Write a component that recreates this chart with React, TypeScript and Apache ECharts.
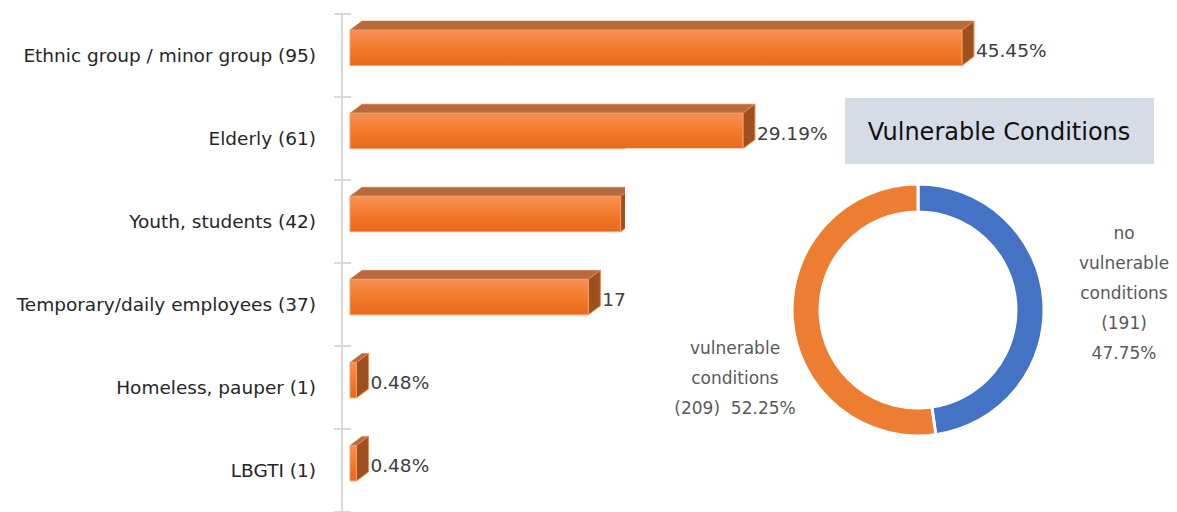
import React, { useEffect, useRef } from "react";
import * as echarts from "echarts";

const categories = [
  "Ethnic group / minor group (95)",
  "Elderly (61)",
  "Youth, students (42)",
  "Temporary/daily employees (37)",
  "Homeless, pauper (1)",
  "LBGTI (1)",
];
const counts = [95, 61, 42, 37, 1, 1];
const percentLabels = ["45.45%", "29.19%", "20.10%", "17.70%", "0.48%", "0.48%"];

const donutNames = ["no\nvulnerable\nconditions", "vulnerable\nconditions"];
const donutValues = [191, 209];
const donutColors = ["#4472C4", "#ED7D31"];

const FONT = "DejaVu Sans";

export default function App() {
  const ref = useRef<HTMLDivElement>(null);
  useEffect(() => {
    document.body.style.margin = "0";
    const chart = echarts.init(ref.current!, null, { renderer: "svg" });
    const total = donutValues.reduce((a, b) => a + b, 0);
    const dx = 12;
    const dy = 9;
    const option: any = {
      animation: false,
      backgroundColor: "#ffffff",
      grid: { left: 342, top: 13.5, height: 501, width: 773, containLabel: false },
      xAxis: { type: "value", min: 0, max: 120, show: false },
      yAxis: [
        {
          type: "category",
          data: categories,
          inverse: true,
          position: "left",
          axisLine: { show: true, lineStyle: { color: "#D9D9D9", width: 2 } },
          axisTick: { show: true, length: 8, lineStyle: { color: "#D9D9D9", width: 2 } },
          axisLabel: {
            margin: 26,
            color: "#262626",
            fontSize: 18.5,
            fontFamily: FONT,
            padding: [4, 0, 0, 0],
          },
        },
        {
          type: "category",
          data: categories,
          inverse: true,
          position: "left",
          axisLine: { show: false },
          axisTick: { show: true, inside: true, length: 9, lineStyle: { color: "#D9D9D9", width: 2 } },
          axisLabel: { show: false },
        },
      ],
      series: [
        {
          type: "custom",
          xAxisIndex: 0,
          yAxisIndex: 0,
          z: 2,
          data: counts.map((c, i) => [c, i]),
          encode: { x: 0, y: 1 },
          renderItem: (params: any, api: any) => {
            const idx = api.value(1);
            const p0 = api.coord([0, idx]);
            const p1 = api.coord([api.value(0), idx]);
            const cy = p0[1];
            const x0 = p0[0] + 8;
            const x1 = x0 + (p1[0] - p0[0]);
            const ft = cy - 25;
            const fb = cy + 10.5;
            return {
              type: "group",
              children: [
                {
                  type: "polygon",
                  shape: { points: [[x0, ft], [x0 + dx, ft - dy], [x1 + dx, ft - dy], [x1, ft]] },
                  style: { fill: "#B86A3C", stroke: "#C27244", lineWidth: 0.5 },
                },
                {
                  type: "polygon",
                  shape: { points: [[x1, ft], [x1 + dx, ft - dy], [x1 + dx, fb - dy], [x1, fb]] },
                  style: { fill: "#9E501E", stroke: "#F28A45", lineWidth: 1 },
                },
                {
                  type: "rect",
                  shape: { x: x0, y: ft, width: x1 - x0, height: fb - ft },
                  style: {
                    fill: new echarts.graphic.LinearGradient(0, 0, 0, 1, [
                      { offset: 0, color: "#F79157" },
                      { offset: 0.5, color: "#F37A2C" },
                      { offset: 1, color: "#E8691A" },
                    ]),
                    stroke: "#F5A065",
                    lineWidth: 1,
                  },
                },
                {
                  type: "text",
                  style: {
                    x: x1 + dx + 2,
                    y: cy - 4.5,
                    text: percentLabels[idx],
                    fill: "#404040",
                    fontSize: 18.5,
                    fontFamily: FONT,
                    align: "left",
                    verticalAlign: "middle",
                  },
                },
              ],
            };
          },
        },
        {
          type: "pie",
          z: 200,
          center: [918, 310],
          radius: [98, 126],
          startAngle: 90,
          clockwise: true,
          silent: true,
          itemStyle: { borderColor: "#ffffff", borderWidth: 3 },
          data: donutValues.map((v, i) => ({
            name: donutNames[i],
            value: v,
            itemStyle: { color: donutColors[i] },
          })),
          label: {
            show: true,
            position: "outside",
            color: "#595959",
            fontSize: 17,
            fontFamily: FONT,
            lineHeight: 30,
            align: "center",
            overflow: "none",
            formatter: (p: any) => {
              const pct = ((p.value / total) * 100).toFixed(2) + "%";
              return p.dataIndex === 0
                ? `${p.name}\n(${p.value})\n${pct}`
                : `${p.name}\n(${p.value})  ${pct}`;
            },
          },
          labelLine: { show: false },
          labelLayout: (p: any) =>
            p.dataIndex === 0
              ? { x: 1124, y: 293, align: "center", verticalAlign: "middle" }
              : { x: 735, y: 378, align: "center", verticalAlign: "middle" },
        },
      ],
      graphic: [
        {
          type: "rect",
          z: 100,
          shape: { x: 625, y: 148.5, width: 560, height: 370 },
          style: { fill: "#ffffff" },
        },
        {
          type: "rect",
          z: 150,
          shape: { x: 845, y: 98, width: 309, height: 66 },
          style: { fill: "#D6DCE5" },
        },
        {
          type: "text",
          z: 151,
          x: 999,
          y: 132,
          style: {
            text: "Vulnerable Conditions",
            fill: "#111111",
            fontSize: 24,
            fontFamily: FONT,
            align: "center",
            verticalAlign: "middle",
          },
        },
      ],
    };
    chart.setOption(option);
    return () => chart.dispose();
  }, []);
  return <div ref={ref} style={{ width: 1177, height: 512 }} />;
}
